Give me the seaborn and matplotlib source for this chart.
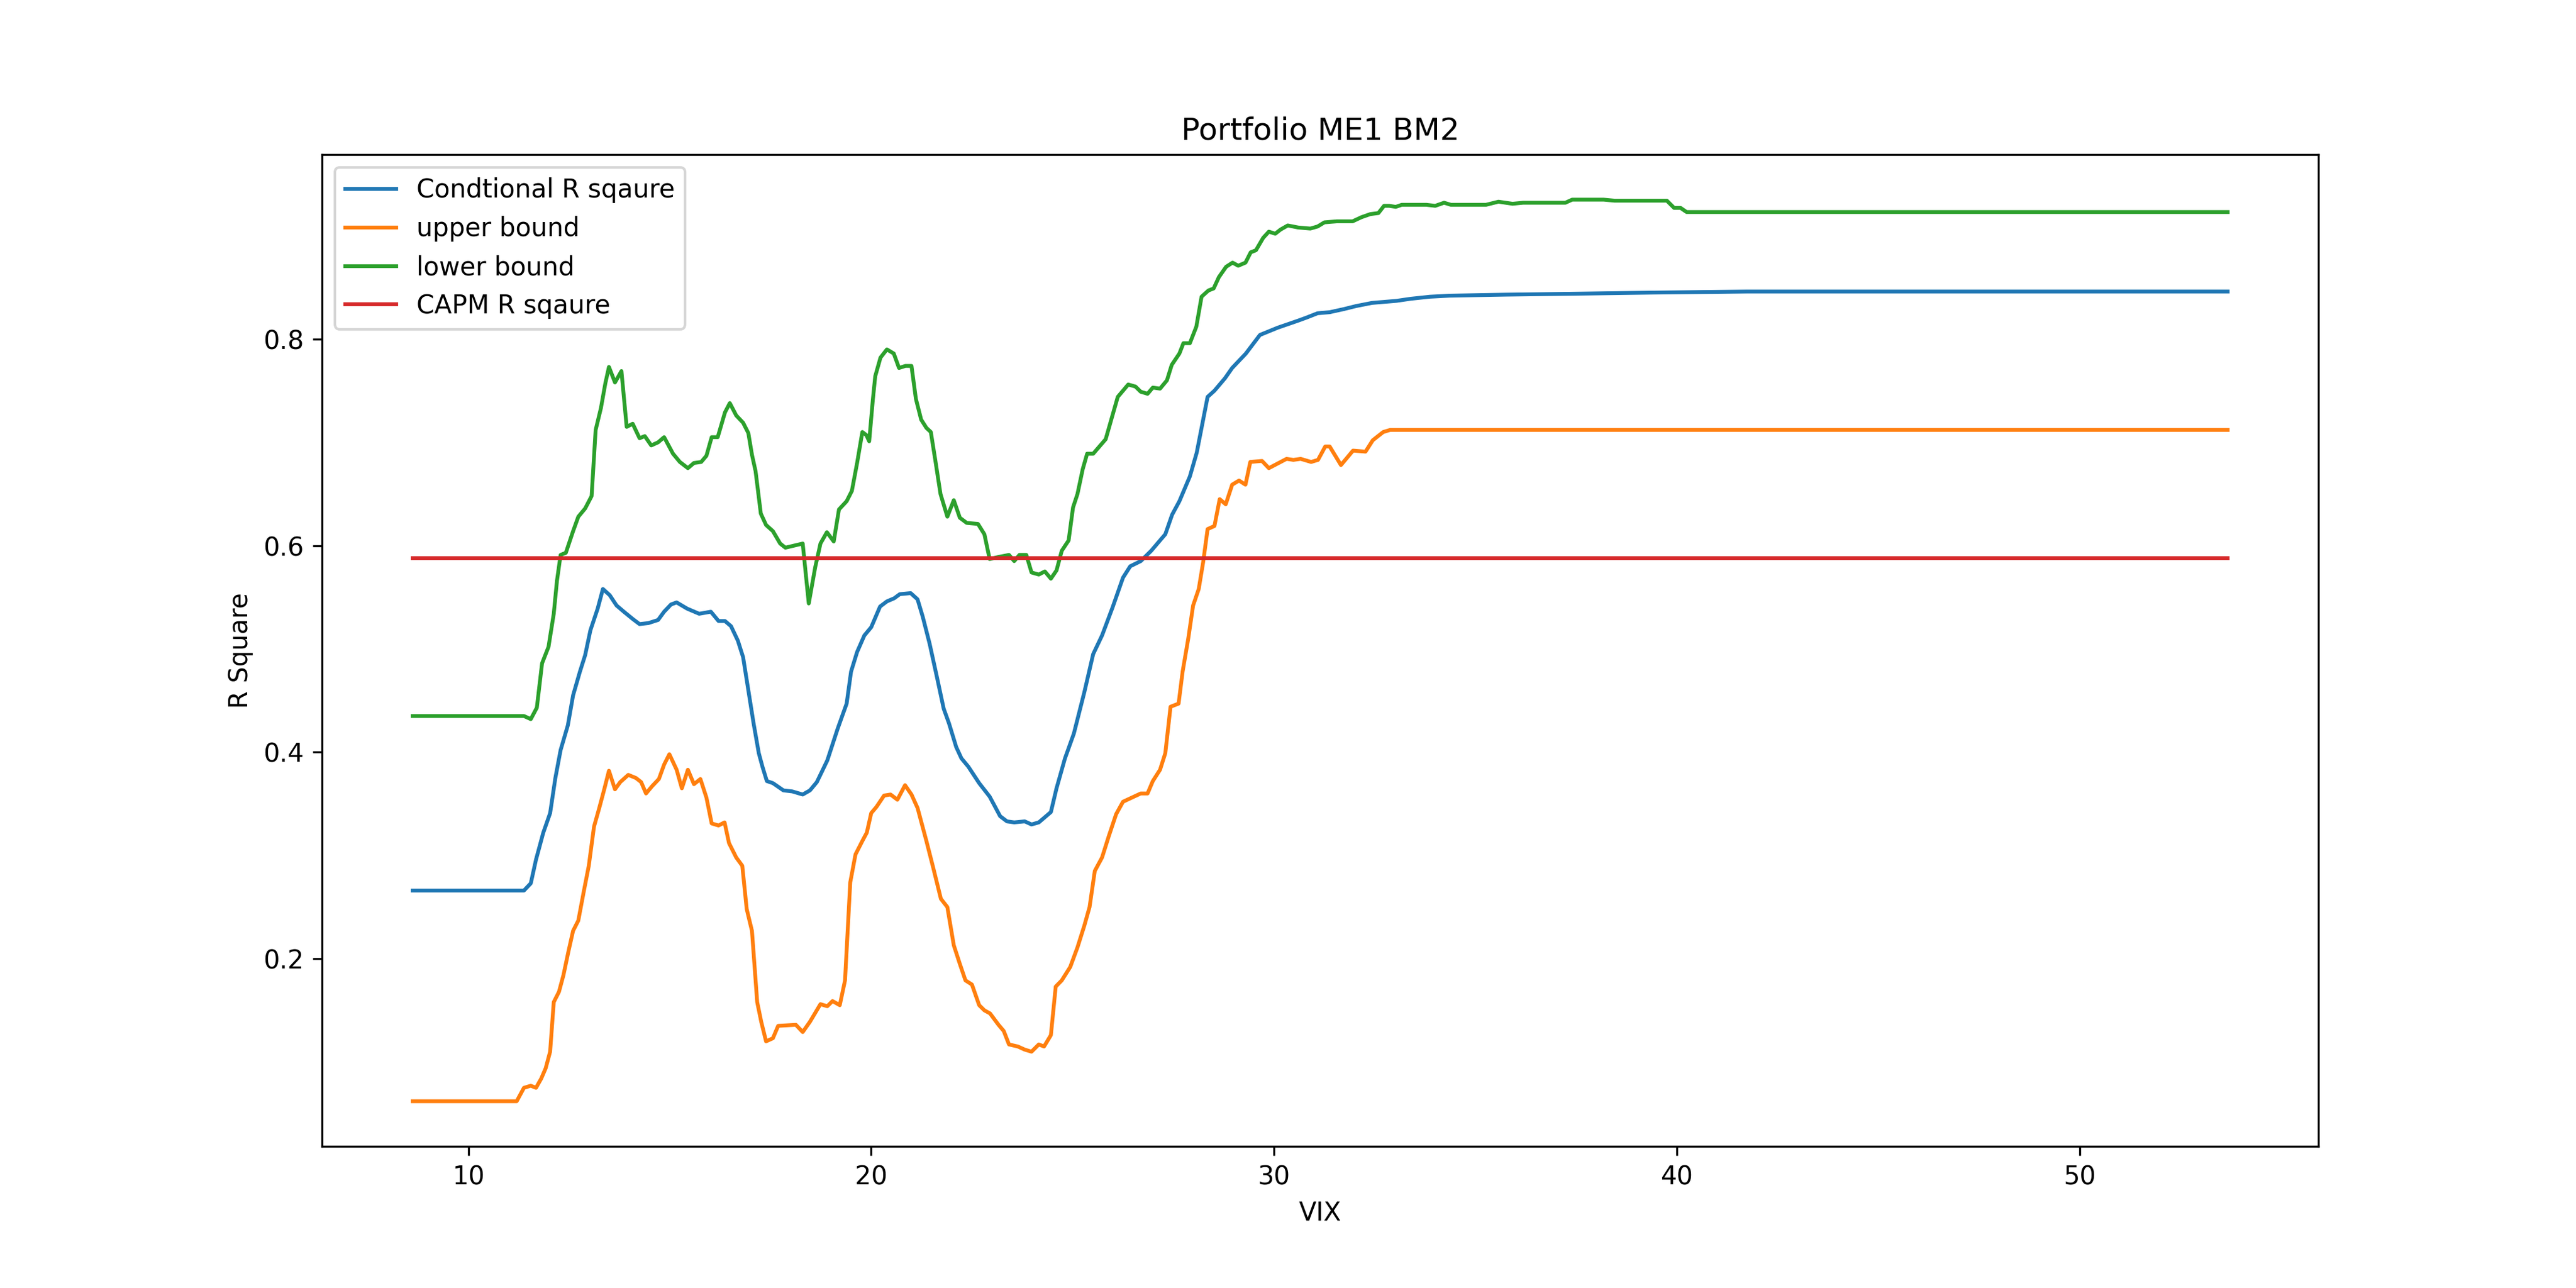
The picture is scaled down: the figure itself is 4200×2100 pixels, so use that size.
import matplotlib
matplotlib.use("Agg")
import matplotlib.pyplot as plt
import seaborn as sns
import numpy as np

# ---- data ----
cond_x = [8.62, 11.38, 11.55, 11.68, 11.86, 12.03, 12.16, 12.29, 12.47, 12.6, 12.77, 12.9, 13.03, 13.21, 13.34, 13.51, 13.68, 13.86, 14.08, 14.25, 14.47, 14.71, 14.86, 15.03, 15.17, 15.43, 15.73, 16.02, 16.21, 16.37, 16.52, 16.69, 16.82, 16.95, 17.08, 17.21, 17.3, 17.41, 17.56, 17.82, 18.04, 18.3, 18.48, 18.65, 18.91, 19.17, 19.39, 19.5, 19.65, 19.83, 20.0, 20.22, 20.39, 20.57, 20.71, 20.98, 21.15, 21.28, 21.45, 21.63, 21.8, 21.93, 22.11, 22.24, 22.41, 22.68, 22.94, 23.2, 23.37, 23.55, 23.81, 23.98, 24.16, 24.46, 24.6, 24.81, 25.03, 25.29, 25.51, 25.73, 25.99, 26.25, 26.43, 26.69, 26.95, 27.3, 27.47, 27.65, 27.91, 28.08, 28.24, 28.35, 28.52, 28.78, 28.96, 29.3, 29.65, 30.09, 30.61, 30.82, 31.08, 31.38, 31.73, 32.04, 32.43, 33.04, 33.39, 33.87, 34.35, 35.74, 37.66, 39.4, 41.74, 53.67]
cond_y = [0.266, 0.266, 0.273, 0.296, 0.322, 0.341, 0.375, 0.402, 0.426, 0.455, 0.478, 0.494, 0.518, 0.539, 0.558, 0.552, 0.542, 0.536, 0.529, 0.524, 0.525, 0.528, 0.536, 0.543, 0.545, 0.539, 0.534, 0.536, 0.527, 0.527, 0.522, 0.508, 0.492, 0.460, 0.428, 0.399, 0.386, 0.372, 0.370, 0.363, 0.362, 0.359, 0.363, 0.371, 0.392, 0.423, 0.447, 0.478, 0.497, 0.513, 0.521, 0.541, 0.546, 0.549, 0.553, 0.554, 0.548, 0.531, 0.505, 0.473, 0.442, 0.428, 0.405, 0.394, 0.386, 0.370, 0.357, 0.338, 0.333, 0.332, 0.333, 0.330, 0.332, 0.342, 0.365, 0.394, 0.418, 0.458, 0.495, 0.513, 0.540, 0.569, 0.580, 0.585, 0.595, 0.611, 0.630, 0.643, 0.667, 0.690, 0.722, 0.744, 0.750, 0.762, 0.772, 0.786, 0.804, 0.811, 0.818, 0.821, 0.825, 0.826, 0.829, 0.832, 0.835, 0.837, 0.839, 0.841, 0.842, 0.843, 0.844, 0.845, 0.846, 0.846]

upper_x = [8.62, 11.2, 11.38, 11.55, 11.68, 11.81, 11.92, 12.03, 12.12, 12.25, 12.36, 12.49, 12.6, 12.73, 12.86, 12.99, 13.12, 13.25, 13.38, 13.49, 13.64, 13.77, 13.97, 14.16, 14.29, 14.41, 14.56, 14.73, 14.86, 14.99, 15.17, 15.3, 15.45, 15.6, 15.76, 15.91, 16.04, 16.21, 16.36, 16.47, 16.65, 16.8, 16.91, 17.04, 17.17, 17.27, 17.39, 17.56, 17.69, 18.13, 18.3, 18.48, 18.74, 18.91, 19.04, 19.22, 19.35, 19.48, 19.61, 19.78, 19.89, 20.0, 20.13, 20.32, 20.48, 20.65, 20.84, 21.0, 21.15, 21.37, 21.54, 21.73, 21.89, 22.05, 22.2, 22.34, 22.5, 22.68, 22.81, 22.95, 23.16, 23.29, 23.42, 23.64, 23.81, 23.98, 24.16, 24.29, 24.46, 24.58, 24.73, 24.94, 25.12, 25.29, 25.42, 25.55, 25.73, 25.9, 26.08, 26.25, 26.47, 26.69, 26.86, 26.99, 27.17, 27.3, 27.43, 27.63, 27.73, 27.87, 27.99, 28.13, 28.24, 28.35, 28.52, 28.65, 28.8, 28.96, 29.13, 29.29, 29.41, 29.7, 29.87, 30.31, 30.48, 30.66, 30.92, 31.09, 31.27, 31.38, 31.66, 31.96, 32.27, 32.45, 32.71, 32.88, 53.67]
upper_y = [0.062, 0.062, 0.075, 0.077, 0.075, 0.084, 0.094, 0.110, 0.158, 0.168, 0.184, 0.208, 0.227, 0.237, 0.264, 0.290, 0.328, 0.346, 0.365, 0.382, 0.364, 0.371, 0.378, 0.375, 0.371, 0.360, 0.367, 0.374, 0.388, 0.398, 0.383, 0.365, 0.383, 0.369, 0.374, 0.356, 0.331, 0.329, 0.332, 0.312, 0.298, 0.290, 0.248, 0.227, 0.158, 0.139, 0.120, 0.123, 0.135, 0.136, 0.129, 0.139, 0.156, 0.154, 0.159, 0.155, 0.179, 0.274, 0.301, 0.314, 0.322, 0.341, 0.347, 0.358, 0.359, 0.354, 0.368, 0.359, 0.346, 0.314, 0.288, 0.258, 0.250, 0.213, 0.195, 0.179, 0.175, 0.155, 0.150, 0.147, 0.136, 0.130, 0.117, 0.115, 0.112, 0.110, 0.117, 0.115, 0.126, 0.173, 0.179, 0.192, 0.211, 0.232, 0.250, 0.285, 0.298, 0.319, 0.340, 0.352, 0.356, 0.360, 0.360, 0.372, 0.383, 0.399, 0.444, 0.447, 0.478, 0.510, 0.542, 0.558, 0.584, 0.616, 0.619, 0.645, 0.640, 0.659, 0.663, 0.659, 0.681, 0.682, 0.675, 0.684, 0.683, 0.684, 0.681, 0.683, 0.696, 0.696, 0.678, 0.692, 0.691, 0.702, 0.710, 0.712, 0.712]

lower_x = [8.62, 11.38, 11.55, 11.7, 11.83, 11.99, 12.12, 12.2, 12.29, 12.42, 12.6, 12.73, 12.9, 13.06, 13.16, 13.29, 13.4, 13.49, 13.64, 13.8, 13.93, 14.08, 14.25, 14.38, 14.54, 14.71, 14.86, 15.08, 15.25, 15.45, 15.6, 15.78, 15.91, 16.04, 16.19, 16.37, 16.49, 16.65, 16.82, 16.95, 17.04, 17.13, 17.26, 17.39, 17.56, 17.74, 17.87, 18.3, 18.45, 18.61, 18.74, 18.9, 19.07, 19.2, 19.39, 19.52, 19.65, 19.78, 19.88, 19.95, 20.04, 20.1, 20.23, 20.39, 20.56, 20.69, 20.85, 21.0, 21.11, 21.24, 21.37, 21.48, 21.59, 21.72, 21.89, 22.05, 22.2, 22.37, 22.65, 22.81, 22.94, 23.16, 23.42, 23.55, 23.68, 23.85, 23.98, 24.16, 24.31, 24.46, 24.6, 24.73, 24.9, 25.01, 25.12, 25.25, 25.36, 25.51, 25.82, 26.12, 26.38, 26.56, 26.69, 26.86, 26.99, 27.17, 27.34, 27.46, 27.65, 27.75, 27.91, 28.07, 28.2, 28.37, 28.5, 28.63, 28.81, 28.97, 29.11, 29.29, 29.42, 29.55, 29.73, 29.87, 30.03, 30.16, 30.34, 30.6, 30.9, 31.08, 31.25, 31.56, 31.95, 32.17, 32.39, 32.59, 32.73, 32.86, 33.02, 33.17, 33.78, 34.0, 34.22, 34.39, 35.26, 35.57, 35.92, 36.18, 37.23, 37.4, 38.18, 38.45, 39.75, 39.93, 40.09, 40.24, 53.67]
lower_y = [0.435, 0.435, 0.432, 0.443, 0.486, 0.502, 0.534, 0.566, 0.591, 0.593, 0.614, 0.628, 0.636, 0.648, 0.712, 0.733, 0.757, 0.773, 0.758, 0.769, 0.715, 0.718, 0.704, 0.706, 0.697, 0.700, 0.705, 0.689, 0.681, 0.675, 0.680, 0.681, 0.687, 0.705, 0.705, 0.729, 0.738, 0.726, 0.719, 0.709, 0.688, 0.672, 0.631, 0.620, 0.614, 0.602, 0.598, 0.602, 0.544, 0.579, 0.602, 0.613, 0.604, 0.635, 0.643, 0.653, 0.680, 0.710, 0.707, 0.701, 0.741, 0.764, 0.782, 0.790, 0.786, 0.772, 0.774, 0.774, 0.742, 0.722, 0.714, 0.710, 0.683, 0.650, 0.628, 0.644, 0.627, 0.622, 0.621, 0.611, 0.587, 0.589, 0.591, 0.585, 0.591, 0.591, 0.574, 0.572, 0.575, 0.568, 0.576, 0.595, 0.605, 0.637, 0.650, 0.674, 0.689, 0.689, 0.703, 0.744, 0.756, 0.754, 0.749, 0.747, 0.753, 0.752, 0.760, 0.775, 0.786, 0.796, 0.796, 0.812, 0.841, 0.847, 0.849, 0.860, 0.870, 0.874, 0.871, 0.874, 0.884, 0.886, 0.898, 0.904, 0.902, 0.906, 0.910, 0.908, 0.907, 0.909, 0.913, 0.914, 0.914, 0.918, 0.921, 0.922, 0.929, 0.929, 0.928, 0.930, 0.930, 0.929, 0.932, 0.930, 0.930, 0.933, 0.931, 0.932, 0.932, 0.935, 0.935, 0.934, 0.934, 0.927, 0.927, 0.923, 0.923]

capm_x = [8.62, 53.67]
capm_y = [0.588, 0.588]

series_labels = ["Condtional R sqaure", "upper bound", "lower bound", "CAPM R sqaure"]
title = "Portfolio ME1 BM2"
x_label = "VIX"
y_label = "R Square"

# ---- plot ----
plt.rcParams['font.family'] = ['DejaVu Sans']
fig, ax = plt.subplots(figsize=(14, 7), dpi=300)
colors = sns.color_palette("tab10", 4)

for xs, ys, lab, col in zip([cond_x, upper_x, lower_x, capm_x],
                            [cond_y, upper_y, lower_y, capm_y],
                            series_labels, colors):
    sns.lineplot(x=np.array(xs), y=np.array(ys), ax=ax, color=col, label=lab,
                 estimator=None, sort=False, linewidth=1.5)

ax.set_title(title)
ax.set_xlabel(x_label)
ax.set_ylabel(y_label)
ax.set_yticks([0.2, 0.4, 0.6, 0.8])
ax.set_xticks([10, 20, 30, 40, 50])
ax.legend(loc="upper left")

fig.savefig("out.png", dpi=300)
